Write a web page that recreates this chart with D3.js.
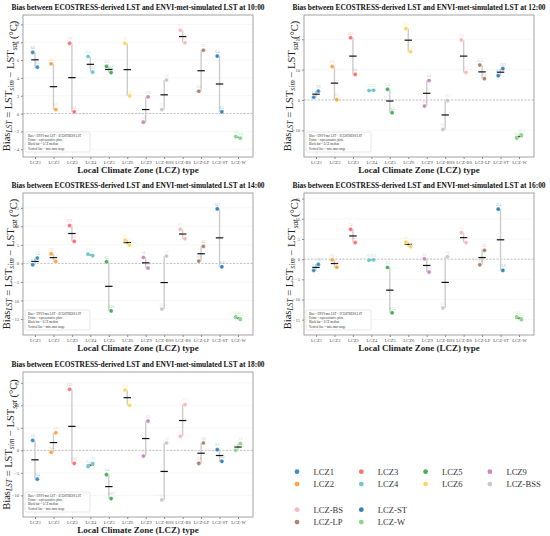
<!DOCTYPE html>
<html>
<head>
<meta charset="utf-8">
<script src="https://cdn.jsdelivr.net/npm/d3@7"></script>
<style>
  body { margin: 0; background: #fff; }
  svg { display: block; font-family: "Liberation Serif", "DejaVu Serif", serif; }
</style>
</head>
<body>
<svg id="chart" width="550" height="536"></svg>
<script>
// LCZ categories and colours
const categories = ['LCZ1', 'LCZ2', 'LCZ3', 'LCZ4', 'LCZ5', 'LCZ6', 'LCZ9', 'LCZ-BSS', 'LCZ-BS', 'LCZ-LP', 'LCZ-ST', 'LCZ-W'];
const colors = ['#3f8fc5', '#ffa443', '#ff7272', '#6cc7c7', '#4cab5c', '#ffd65c', '#c98bb8', '#cfc6c6', '#ffb7be', '#b0846c', '#3a84b8', '#85da85'];

// bias values (°C) for the two representative plots of each LCZ
const plotA_10 = [6.85, 5.58, 7.87, 6.4, 5.28, 7.87, -0.97, 0.45, 9.33, 2.5, 6.44, -2.58];
const plotB_10 = [5.2, 0.45, 0.19, 4.64, 4.6, 1.98, 1.87, 3.75, 7.94, 7.1, 0.19, -2.77];

const plotA_12 = [0.9, 11.0, 20.5, 3.1, 3.5, 23.5, -2.0, -9.7, 19.8, 11.5, 8.0, -12.6];
const plotB_12 = [2.9, 0.1, 8.4, 3.2, -4.2, 15.9, 6.4, -0.2, 9.1, 7.0, 10.3, -11.5];

const plotA_14 = [-0.36, 2.6, 10.2, 2.5, 0.45, 6.3, 1.6, -12.3, 9.2, 0.63, 14.7, -14.4];
const plotB_14 = [1.44, 0.54, 5.95, 2.1, -12.8, 4.95, -1.26, 1.98, 6.67, 4.6, -0.9, -15.1];

const plotA_16 = [-2.8, -0.17, 7.4, -0.25, -2.07, 4.2, 0.08, -12.1, 6.6, -1.4, 12.4, -14.3];
const plotB_16 = [-1.3, -2.0, 4.1, -0.17, -13.3, 3.1, -3.2, 0.58, 4.1, 2.2, -2.8, -15.0];

const plotA_18 = [2.2, -0.44, 13.55, -3.6, -5.4, 13.4, -1.26, -11.0, 3.1, -2.9, 0.15, 0.0];
const plotB_18 = [-6.4, 3.9, -2.9, -2.96, -10.7, 10.0, 6.5, 1.63, 10.15, 1.63, -2.44, 1.48];

// y axis ranges and ticks per panel
const yDomain_10 = [-4.87, 11.05];
const yDomain_12 = [-18.8, 28];
const yDomain_14 = [-19.3, 19];
const yDomain_16 = [-18.8, 16.4];
const yDomain_18 = [-14.8, 17.4];

const yTicks_10 = [-4, -2, 0, 2, 4, 6, 8, 10];
const yTicks_12 = [-10, 0, 10, 20];
const yTicks_14 = [-15, -10, -5, 0, 5, 10, 15];
const yTicks_16 = [-15, -10, -5, 0, 5, 10, 15];
const yTicks_18 = [-10, -5, 0, 5, 10, 15];

const noteLines = ['Bias = ENVI-met LST \u2212 ECOSTRESS LST', 'Points = representative plots', 'Black bar = LCZ median', 'Vertical line = min\u2013max range'];

const panels = [
    {time: '10:00', a: plotA_10, b: plotB_10, domain: yDomain_10, ticks: yTicks_10, x: 23, y: 15, h: 142},
    {time: '12:00', a: plotA_12, b: plotB_12, domain: yDomain_12, ticks: yTicks_12, x: 304, y: 15, h: 142},
    {time: '14:00', a: plotA_14, b: plotB_14, domain: yDomain_14, ticks: yTicks_14, x: 23, y: 193, h: 142},
    {time: '16:00', a: plotA_16, b: plotB_16, domain: yDomain_16, ticks: yTicks_16, x: 304, y: 193, h: 142},
    {time: '18:00', a: plotA_18, b: plotB_18, domain: yDomain_18, ticks: yTicks_18, x: 23, y: 372, h: 145}
];

const svg = d3.select('#chart');
const color = d3.scaleOrdinal().domain(categories).range(colors);

function renderPanel(p) {
    const width = 230;
    const height = p.h;
    const g = svg.append('g')
        .attr('transform', `translate(${p.x},${p.y})`);

    const x = d3.scalePoint()
        .domain(categories)
        .range([12, width - 15]);

    const y = d3.scaleLinear()
        .domain(p.domain)
        .range([height, 0]);

    // faint grid
    g.append('g')
        .selectAll('line')
        .data(p.ticks)
        .enter().append('line')
        .attr('x1', 0).attr('x2', width)
        .attr('y1', d => y(d)).attr('y2', d => y(d))
        .attr('stroke', '#eeeeee')
        .attr('stroke-width', 0.5);

    // zero line
    g.append('line')
        .attr('x1', 0).attr('x2', width)
        .attr('y1', y(0)).attr('y2', y(0))
        .attr('stroke', '#aaaaaa')
        .attr('stroke-width', 0.7)
        .attr('stroke-dasharray', '2,1.5');

    // axes
    const yAxis = g.append('g')
        .call(d3.axisLeft(y).tickValues(p.ticks).tickSize(2).tickPadding(2));
    const xAxis = g.append('g')
        .attr('transform', `translate(0,${height})`)
        .call(d3.axisBottom(x).tickSize(2).tickPadding(2));
    [yAxis, xAxis].forEach(ax => {
        ax.select('.domain').remove();
        ax.selectAll('line').attr('stroke', '#888');
        ax.selectAll('text')
            .attr('fill', '#555')
            .style('font-size', '4.6px')
            .style('font-family', '"Liberation Serif", serif');
    });

    const rows = categories.map((c, i) => ({
        lcz: c,
        a: p.a[i],
        b: p.b[i],
        med: d3.median([p.a[i], p.b[i]])
    }));
    const off = 2.3;

    // min-max range
    g.selectAll('.range')
        .data(rows)
        .enter().append('line')
        .attr('class', 'range')
        .attr('x1', d => x(d.lcz)).attr('x2', d => x(d.lcz))
        .attr('y1', d => y(Math.min(d.a, d.b)))
        .attr('y2', d => y(Math.max(d.a, d.b)))
        .attr('stroke', '#cccccc')
        .attr('stroke-width', 1.4);

    // median bar
    g.selectAll('.median')
        .data(rows)
        .enter().append('line')
        .attr('class', 'median')
        .attr('x1', d => x(d.lcz) - 3.7).attr('x2', d => x(d.lcz) + 3.7)
        .attr('y1', d => y(d.med)).attr('y2', d => y(d.med))
        .attr('stroke', '#111')
        .attr('stroke-width', 1.2);

    // representative plots
    const pts = [];
    rows.forEach(r => {
        pts.push({lcz: r.lcz, v: r.a, dx: -off});
        pts.push({lcz: r.lcz, v: r.b, dx: off});
    });

    g.selectAll('.dot')
        .data(pts)
        .enter().append('circle')
        .attr('class', 'dot')
        .attr('cx', d => x(d.lcz) + d.dx)
        .attr('cy', d => y(d.v))
        .attr('r', 2.1)
        .attr('fill', d => color(d.lcz))
        .attr('stroke', '#fff')
        .attr('stroke-width', 0.4);

    g.selectAll('.lab')
        .data(pts)
        .enter().append('text')
        .attr('class', 'lab')
        .attr('x', d => x(d.lcz) + d.dx)
        .attr('y', d => y(d.v) - 3.2)
        .attr('text-anchor', 'middle')
        .attr('fill', d => color(d.lcz))
        .attr('opacity', 0.6)
        .style('font-size', '3.2px')
        .text(d => d.v.toFixed(1));

    // note box
    const note = g.append('g')
        .attr('transform', `translate(2,${height - 25})`);
    note.append('rect')
        .attr('width', 65).attr('height', 20)
        .attr('rx', 1.5)
        .attr('fill', '#fff')
        .attr('fill-opacity', 0.9)
        .attr('stroke', '#cfcfcf')
        .attr('stroke-width', 0.5);
    note.selectAll('text')
        .data(noteLines)
        .enter().append('text')
        .attr('x', 3)
        .attr('y', (d, i) => 4.6 + i * 4.4)
        .attr('fill', '#333')
        .style('font-size', '3px')
        .text(d => d);

    // frame
    g.append('rect')
        .attr('width', width).attr('height', height)
        .attr('fill', 'none')
        .attr('stroke', '#999')
        .attr('stroke-width', 0.9);

    // title
    g.append('text')
        .attr('x', width / 2)
        .attr('y', -5)
        .attr('text-anchor', 'middle')
        .attr('font-weight', 'bold')
        .attr('fill', '#111')
        .style('font-size', '7.4px')
        .text(`Bias between ECOSTRESS-derived LST and ENVI-met-simulated LST at ${p.time}`);

    // x axis title
    g.append('text')
        .attr('x', width / 2)
        .attr('y', height + 15.5)
        .attr('text-anchor', 'middle')
        .attr('font-weight', 'bold')
        .attr('fill', '#222')
        .style('font-size', '9px')
        .text('Local Climate Zone (LCZ) type');

    // y axis title (subscripts via dy)
    const yl = g.append('text')
        .attr('transform', `translate(-13,${height / 2}) rotate(-90)`)
        .attr('text-anchor', 'middle')
        .attr('fill', '#222')
        .style('font-size', '10.5px');
    const parts = [['Bias', 'LST'], [' = LST', 'sim'], [' \u2212 LST', 'sat']];
    parts.forEach(([main, sub]) => {
        yl.append('tspan').attr('dy', 0).text(main);
        yl.append('tspan').attr('dy', 2.2).style('font-size', '7.5px').style('font-style', 'italic').text(sub);
        yl.append('tspan').attr('dy', -2.2).text('');
    });
    yl.append('tspan').text(' (\u00B0C)');
}

panels.forEach(renderPanel);

// legend
const legendGroups = [
    {items: categories.slice(0, 8), x: 297, y: 471.7},
    {items: categories.slice(8), x: 297, y: 509.7}
];
legendGroups.forEach(grp => {
    const lg = svg.append('g');
    grp.items.forEach((c, i) => {
        const col = Math.floor(i / 2);
        const row = i % 2;
        const cx = grp.x + col * 64.3;
        const cy = grp.y + row * 12.4;
        lg.append('circle')
            .attr('cx', cx).attr('cy', cy)
            .attr('r', 2.4)
            .attr('fill', color(c));
        lg.append('text')
            .attr('x', cx + 16.5)
            .attr('y', cy + 3)
            .attr('fill', '#333')
            .style('font-size', '8.6px')
            .text(c);
    });
});
</script>
</body>
</html>
